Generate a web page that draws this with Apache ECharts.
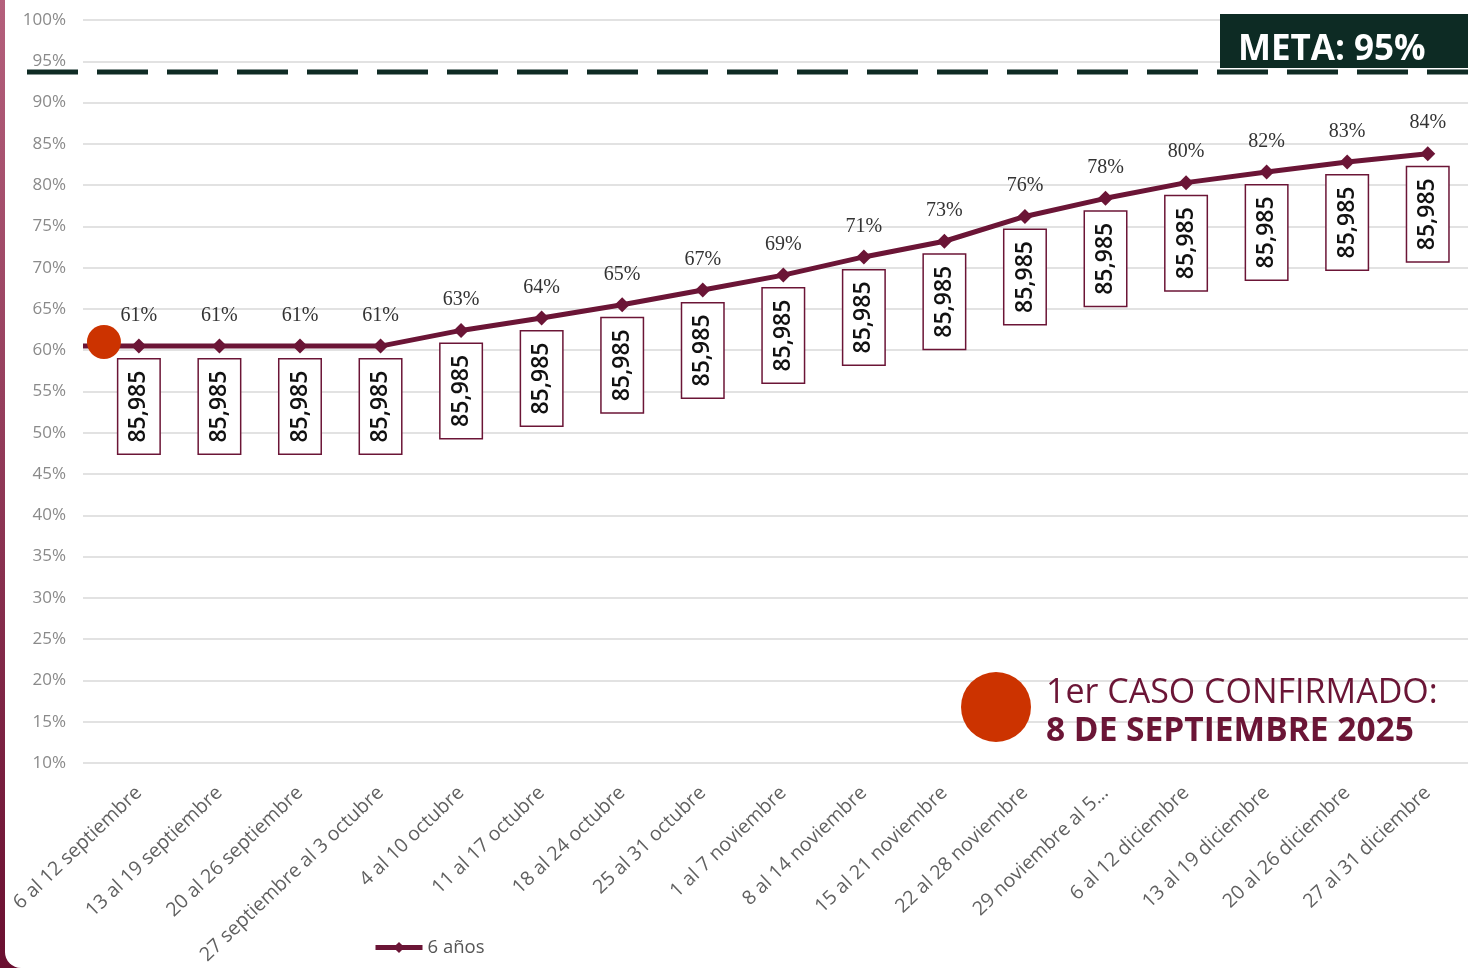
<!DOCTYPE html>
<html lang="es">
<head>
<meta charset="UTF-8">
<title>Cobertura 6 años</title>
<script src="https://cdn.jsdelivr.net/npm/echarts@6/dist/echarts.min.js"></script>
<style>
html,body{margin:0;padding:0;width:1468px;height:968px;overflow:hidden;background:linear-gradient(#b4607c,#6a0f30);}
#panel{position:absolute;left:5px;top:0;width:1463px;height:968px;background:#fff;border-bottom-left-radius:16px;}
#chartBox{position:absolute;left:0;top:0;width:1468px;height:968px;}
</style>
</head>
<body>
<div id="panel"></div>
<div id="chartBox"></div>
<script>
// semanas
const semanas = ['6 al 12 septiembre', '13 al 19 septiembre', '20 al 26 septiembre',
    '27 septiembre al 3 octubre', '4 al 10 octubre', '11 al 17 octubre', '18 al 24 octubre',
    '25 al 31 octubre', '1 al 7 noviembre', '8 al 14 noviembre', '15 al 21 noviembre',
    '22 al 28 noviembre', '29 noviembre al 5...', '6 al 12 diciembre', '13 al 19 diciembre',
    '20 al 26 diciembre', '27 al 31 diciembre'];
// cobertura acumulada (%)
const cobertura = [60.5, 60.5, 60.5, 60.5, 62.4, 63.9, 65.5, 67.3, 69.1, 71.3, 73.2, 76.2, 78.4, 80.3, 81.6, 82.8, 83.8];
const etiquetas = ['61%', '61%', '61%', '61%', '63%', '64%', '65%', '67%', '69%', '71%', '73%', '76%', '78%', '80%', '82%', '83%', '84%'];
// poblacion objetivo
const poblacion = [85985, 85985, 85985, 85985, 85985, 85985, 85985, 85985, 85985, 85985, 85985, 85985, 85985, 85985, 85985, 85985, 85985];
// eje y
const yMin = 10, yMax = 100, yPaso = 5;
// meta y primer caso
const metaLinea = 93.7;
const primerCaso = [[-0.433, 61.0]];
const tramoInicial = [[-0.693, 60.5], [0, 60.5]];

const GUINDA = '#6b1536';
const ROJO = '#cc3300';

let chartObj = echarts.init(document.getElementById('chartBox'));
let option = {
    animation: false,
    grid: [
        {left: 83, top: 20, width: 1389, height: 743},
        {left: 98.6, top: 20, width: 1374, height: 743},
        {left: 15, top: 20, width: 1453, height: 743}
    ],
    xAxis: [
        {type: 'value', gridIndex: 0, min: -0.693, max: 16.5, show: false},
        {
            type: 'category', gridIndex: 1, data: semanas,
            axisLine: {show: false},
            axisTick: {show: false},
            axisLabel: {
                rotate: 43.5, margin: 27, interval: 0,
                fontSize: 19.5, color: '#606060', fontFamily: 'Open Sans'
            }
        },
        {type: 'value', gridIndex: 2, min: 0, max: 1, show: false}
    ],
    yAxis: [
        {
            type: 'value', gridIndex: 0, min: yMin, max: yMax, interval: yPaso,
            axisLine: {show: false},
            axisTick: {show: false},
            axisLabel: {
                formatter: '{value}%', margin: 17,
                fontSize: 17, color: '#8a8a8a', fontFamily: 'Open Sans'
            },
            splitLine: {lineStyle: {color: '#d9d9d9', width: 1.5}}
        },
        {type: 'value', gridIndex: 1, min: yMin, max: yMax, show: false},
        {type: 'value', gridIndex: 2, min: yMin, max: yMax, show: false}
    ],
    legend: {
        left: 373, top: 938, padding: 0,
        itemWidth: 47, itemHeight: 14,
        data: ['6 años'],
        lineStyle: {width: 5},
        textStyle: {fontSize: 18.5, color: '#555555', fontFamily: 'Open Sans'}
    },
    series: [
        {
            // linea meta
            type: 'line', xAxisIndex: 2, yAxisIndex: 2, z: 1,
            symbol: 'none', silent: true,
            data: [[0, metaLinea], [1, metaLinea]],
            lineStyle: {color: '#0f2b24', width: 5, type: [51, 19], dashOffset: 58}
        },
        {
            type: 'line', xAxisIndex: 0, yAxisIndex: 0,
            symbol: 'none', silent: true,
            data: tramoInicial,
            lineStyle: {color: GUINDA, width: 5}
        },
        {
            type: 'line', name: '6 años', xAxisIndex: 1, yAxisIndex: 1, z: 3,
            data: cobertura,
            symbol: 'diamond', symbolSize: 15,
            lineStyle: {color: GUINDA, width: 5},
            itemStyle: {color: GUINDA},
            label: {
                show: true, position: 'top', distance: 13,
                formatter: p => etiquetas[p.dataIndex],
                fontSize: 20, color: '#333333', fontFamily: 'Liberation Serif'
            }
        },
        {
            // cajas con poblacion
            type: 'line', xAxisIndex: 1, yAxisIndex: 1, z: 2,
            data: cobertura,
            symbol: 'diamond', symbolSize: 13,
            itemStyle: {color: 'rgba(0,0,0,0)'},
            lineStyle: {width: 0, opacity: 0},
            label: {
                show: true, position: 'bottom', distance: 7,
                rotate: 90, align: 'right', verticalAlign: 'middle',
                formatter: p => poblacion[p.dataIndex].toLocaleString('en-US'),
                fontSize: 23, fontWeight: 600, color: '#111111', fontFamily: 'Open Sans',
                backgroundColor: '#ffffff',
                borderColor: GUINDA, borderWidth: 1.5,
                padding: [9, 11]
            }
        },
        {
            type: 'scatter', xAxisIndex: 0, yAxisIndex: 0, z: 4,
            data: primerCaso,
            symbolSize: 34,
            itemStyle: {color: ROJO, opacity: 1}
        }
    ],
    graphic: [
        {
            type: 'rect', left: 1220, top: 14, z: 10,
            shape: {width: 260, height: 54},
            style: {fill: '#0d2b24'}
        },
        {
            type: 'text', left: 1238, top: 33, z: 11,
            style: {text: 'META: 95%', fill: '#ffffff', font: 'bold 35px "Open Sans"'}
        },
        {
            type: 'circle', z: 10,
            shape: {cx: 996, cy: 707, r: 35},
            style: {fill: ROJO}
        },
        {
            type: 'text', left: 1046, top: 676, z: 11,
            style: {text: '1er CASO CONFIRMADO:', fill: GUINDA, font: '34px "Open Sans"'}
        },
        {
            type: 'text', left: 1046, top: 714, z: 11,
            style: {text: '8 DE SEPTIEMBRE 2025', fill: GUINDA, font: 'bold 33.5px "Open Sans"'}
        }
    ]
};
chartObj.setOption(option);
</script>
</body>
</html>
